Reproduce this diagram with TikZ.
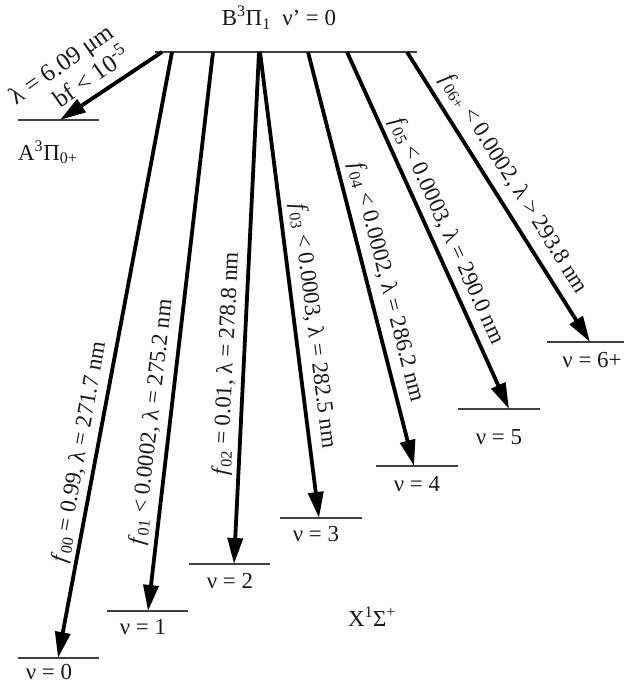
\documentclass[tikz,border=0pt]{standalone}
\usepackage{fontspec}
\setmainfont{Liberation Serif}
\usetikzlibrary{arrows.meta}
\tikzset{
  trans/.style={line width=3.8bp, -{Triangle[length=26bp,width=15bp]}},
  lvl/.style={line width=1.4bp, black!75},
  lab/.style={font=\fontsize{23}{25}\selectfont, inner sep=0pt, text=black!90},
  alab/.style={font=\fontsize{25}{28}\selectfont, inner sep=0pt, text=black!90},
}
\newcommand{\fsub}[1]{\textit{f}\textsubscript{#1}}
\begin{document}
\begin{tikzpicture}[x=1bp,y=-1bp]
\useasboundingbox (0,0) rectangle (624,685);
% upper level
\draw[lvl] (155,52) -- (417,52);
\node[lab] (B) at (279,18) {B\textsuperscript{3}Π\textsubscript{1}\enspace ν’ = 0};
% A level
\draw[lvl] (18,120) -- (99,120);
\node[lab, anchor=base west] (A) at (18,160) {A\textsuperscript{3}Π\textsubscript{0+}};
% X levels
\draw[lvl] (18,658) -- (99,658);
\draw[lvl] (107,611) -- (188,611);
\draw[lvl] (189,564) -- (270,564);
\draw[lvl] (280,518) -- (362,518);
\draw[lvl] (376,466) -- (458,466);
\draw[lvl] (458,409) -- (540,409);
\draw[lvl] (547,342) -- (624,342);
\node[lab] (v0) at (49,672) {ν = 0};
\node[lab] (v1) at (143,627) {ν = 1};
\node[lab] (v2) at (230,581) {ν = 2};
\node[lab] (v3) at (316,534) {ν = 3};
\node[lab] (v4) at (417,484) {ν = 4};
\node[lab] (v5) at (499,437) {ν = 5};
\node[lab] (v6) at (592,360) {ν = 6+};
\node[lab] (X) at (372,617) {X\textsuperscript{1}Σ\textsuperscript{+}};
% start and end points
\coordinate (sA) at (162,52); \coordinate (eA) at (60,120);
\coordinate (s0) at (172,52); \coordinate (e0) at (58,658);
\coordinate (s1) at (213,52); \coordinate (e1) at (148,611);
\coordinate (s2) at (259,52); \coordinate (e2) at (234,564);
\coordinate (s3) at (260,52); \coordinate (e3) at (319,518);
\coordinate (s4) at (308,52); \coordinate (e4) at (414,466);
\coordinate (s5) at (347,52); \coordinate (e5) at (509,409);
\coordinate (s6) at (407,52); \coordinate (e6) at (590,342);
\draw[trans] (sA) -- (eA);
\draw[trans] (s0) -- (e0);
\draw[trans] (s1) -- (e1);
\draw[trans] (s2) -- (e2);
\draw[trans] (s3) -- (e3);
\draw[trans] (s4) -- (e4);
\draw[trans] (s5) -- (e5);
\draw[trans] (s6) -- (e6);
% labels
\node[alab, rotate=35, align=right] (lA) at (69,75) {λ = 6.09 μm\\bf < 10\textsuperscript{-5}};
\node[lab, rotate=79.8] (l0) at (80,452) {\fsub{00} = 0.99, λ = 271.7 nm};
\node[lab, rotate=83.4] (l1) at (152,422) {\fsub{01} < 0.0002, λ = 275.2 nm};
\node[lab, rotate=87.2] (l2) at (227,364) {\fsub{02} = 0.01, λ = 278.8 nm};
\node[lab, rotate=-82.8] (l3) at (313,326) {\fsub{03} < 0.0003, λ = 282.5 nm};
\node[lab, rotate=-75.6] (l4) at (386,282) {\fsub{04} < 0.0002, λ = 286.2 nm};
\node[lab, rotate=-65.6] (l5) at (447,231) {\fsub{05} < 0.0003, λ = 290.0 nm};
\node[lab, rotate=-57.7] (l6) at (514,184) {\fsub{06+} < 0.0002, λ > 293.8 nm};
\end{tikzpicture}
\end{document}
